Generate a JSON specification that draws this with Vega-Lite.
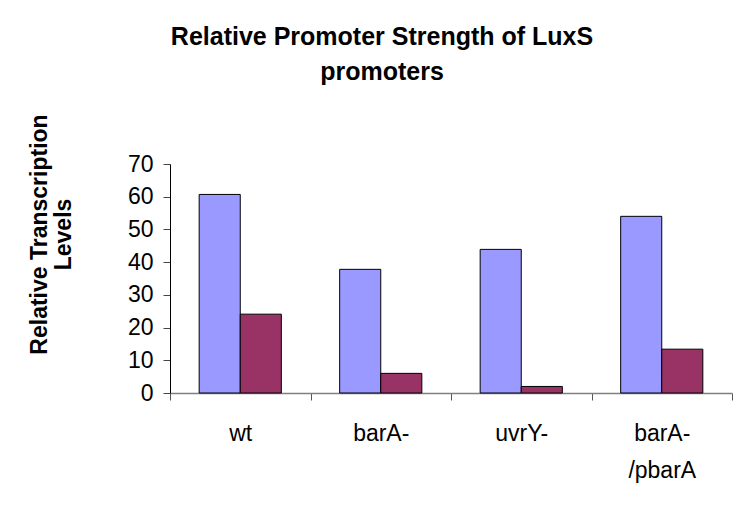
{
  "$schema": "https://vega.github.io/schema/vega-lite/v6.json",
  "width": 562,
  "height": 229,
  "autosize": {"type": "none"},
  "padding": {"left": 170, "top": 164, "right": 5, "bottom": 128},
  "background": "white",
  "title": {
    "text": ["Relative Promoter Strength of LuxS", "promoters"],
    "font": "Liberation Sans",
    "fontSize": 25,
    "fontWeight": "bold",
    "lineHeight": 35,
    "anchor": "middle",
    "dx": -69,
    "baseline": "alphabetic",
    "offset": 9,
    "color": "black"
  },
  "data": {
    "values": [
      {"strain": "wt", "series": "Series1", "value": 60.7},
      {"strain": "wt", "series": "Series2", "value": 24.1},
      {"strain": "barA-", "series": "Series1", "value": 37.8},
      {"strain": "barA-", "series": "Series2", "value": 6.0},
      {"strain": "uvrY-", "series": "Series1", "value": 43.9},
      {"strain": "uvrY-", "series": "Series2", "value": 2.0},
      {"strain": "barA-/pbarA", "series": "Series1", "value": 54.0},
      {"strain": "barA-/pbarA", "series": "Series2", "value": 13.4}
    ]
  },
  "mark": {"type": "bar", "stroke": "black", "strokeWidth": 1},
  "encoding": {
    "x": {
      "field": "strain",
      "type": "nominal",
      "sort": null,
      "scale": {"paddingInner": 0, "paddingOuter": 0},
      "axis": {
        "title": null,
        "labelAngle": 0,
        "labelFont": "Liberation Sans",
        "labelFontSize": 23,
        "labelColor": "black",
        "labelLineHeight": 37,
        "labelPadding": 22,
        "labelExpr": "datum.label == 'barA-/pbarA' ? ['barA-', '/pbarA'] : datum.label",
        "tickBand": "extent",
        "tickSize": 7,
        "tickColor": "#555555",
        "domainColor": "#808080",
        "domainWidth": 1.5,
        "grid": false
      }
    },
    "xOffset": {
      "field": "series",
      "type": "nominal",
      "sort": null,
      "scale": {"paddingInner": 0, "paddingOuter": 0.71}
    },
    "y": {
      "field": "value",
      "type": "quantitative",
      "scale": {"domain": [0, 70], "nice": false},
      "axis": {
        "title": ["Relative Transcription", "Levels"],
        "titleFont": "Liberation Sans",
        "titleFontSize": 23,
        "titleFontWeight": "bold",
        "titleColor": "black",
        "titleAngle": 270,
        "titleX": -131,
        "titleY": 70,
        "titleAlign": "center",
        "titleBaseline": "middle",
        "titleLineHeight": 24,
        "values": [0, 10, 20, 30, 40, 50, 60, 70],
        "grid": false,
        "domainColor": "black",
        "tickColor": "#444444",
        "tickSize": 7,
        "labelFont": "Liberation Sans",
        "labelFontSize": 23,
        "labelColor": "black",
        "labelPadding": 10
      }
    },
    "color": {
      "field": "series",
      "type": "nominal",
      "scale": {"domain": ["Series1", "Series2"], "range": ["#9999FF", "#993366"]},
      "legend": null
    }
  },
  "config": {"view": {"stroke": null}}
}
